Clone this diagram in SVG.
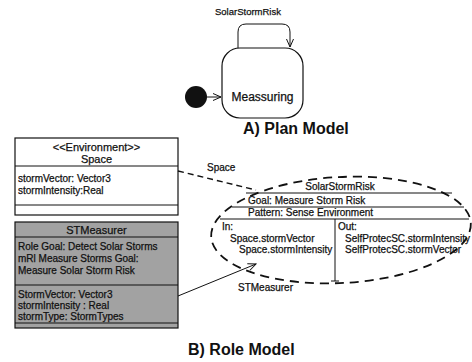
<svg xmlns="http://www.w3.org/2000/svg" width="472" height="362" viewBox="0 0 472 362">
<style>
text{font-family:"Liberation Sans",Arial,sans-serif;fill:#111;stroke:#111;stroke-width:0.25}
.s{font-size:10px}
.m{font-size:11px}
.t{font-size:16px;font-weight:bold;stroke:none}
.box{fill:#fff;stroke:#111;stroke-width:1.2}
.gbox{fill:#a2a2a2;stroke:#111;stroke-width:1.2}
.ln{stroke:#111;stroke-width:1;fill:none}
.dash{stroke:#111;stroke-width:1.8;fill:none;stroke-dasharray:9 6}
</style>
<defs>
<marker id="open" markerWidth="10" markerHeight="10" refX="9" refY="5" orient="auto" markerUnits="userSpaceOnUse">
<path d="M1,1.5 L9,5 L1,8.5" fill="none" stroke="#111" stroke-width="1"/>
</marker>
</defs>
<rect width="472" height="362" fill="#fff"/>

<g id="initial"><circle cx="196" cy="97" r="11" fill="#111"/></g>
<g id="meassuring">
<rect class="box" x="222" y="48" width="81" height="70" rx="18"/>
<text class="m" x="262.5" y="101" text-anchor="middle" style="font-size:12px">Meassuring</text>
</g>
<g id="plan-label"><text class="t" x="243" y="134">A) Plan Model</text></g>

<g id="space">
<rect class="box" x="15" y="138" width="163" height="77"/>
<line class="ln" x1="15" y1="166" x2="178" y2="166"/>
<line class="ln" x1="15" y1="205" x2="178" y2="205"/>
<text class="m" x="96.5" y="151" text-anchor="middle">&lt;&lt;Environment&gt;&gt;</text>
<text class="m" x="96.5" y="163" text-anchor="middle">Space</text>
<text class="s" x="18" y="182">stormVector: Vector3</text>
<text class="s" x="18" y="194">stormIntensity:Real</text>
</g>

<g id="stmeasurer">
<rect class="gbox" x="15" y="222" width="163" height="106"/>
<line class="ln" x1="15" y1="237" x2="178" y2="237"/>
<line class="ln" x1="15" y1="285" x2="178" y2="285"/>
<line class="ln" x1="15" y1="323" x2="178" y2="323"/>
<text class="m" x="96.5" y="234" text-anchor="middle">STMeasurer</text>
<text class="s" x="18" y="250">Role Goal: Detect Solar Storms</text>
<text class="s" x="18" y="262">mRl Measure Storms Goal:</text>
<text class="s" x="18" y="274">Measure Solar Storm Risk</text>
<text class="s" x="18" y="298">StormVector: Vector3</text>
<text class="s" x="18" y="309">stormIntensity : Real</text>
<text class="s" x="18" y="320">stormType: StormTypes</text>
</g>

<g id="solarstormrisk">
<ellipse class="dash" cx="341" cy="230" rx="130" ry="53" transform="rotate(-3 341 230)"/>
<text class="s" x="340" y="190" text-anchor="middle">SolarStormRisk</text>
<line class="ln" x1="246" y1="193" x2="452" y2="193"/>
<text class="s" x="248" y="204">Goal: Measure Storm Risk</text>
<line class="ln" x1="232" y1="207" x2="464" y2="207"/>
<text class="s" x="248" y="216">Pattern: Sense Environment</text>
<line class="ln" x1="220" y1="219" x2="469" y2="219"/>
<line class="ln" x1="335" y1="219" x2="335" y2="281"/>
<line class="ln" x1="331" y1="281" x2="339" y2="281"/>
<text class="s" x="222" y="230">In:</text>
<text class="s" x="230" y="242">Space.stormVector</text>
<text class="s" x="239" y="253">Space.stormIntensity</text>
<text class="s" x="338" y="230">Out:</text>
<text class="s" x="345" y="242">SelfProtecSC.stormIntensity</text>
<text class="s" x="345" y="253">SelfProtecSC.stormVector</text>
</g>

<g id="role-label"><text class="t" x="188" y="355">B) Role Model</text></g>

<g id="connectors">
<line class="ln" x1="207" y1="97" x2="221" y2="97" marker-end="url(#open)"/>
<path class="ln" d="M238,48 V32 Q238,24 246,24 H282 Q290,24 290,32 V47" marker-end="url(#open)"/>
<text class="s" x="248" y="15" text-anchor="middle" style="font-size:9.5px">SolarStormRisk</text>
<line class="dash" x1="178" y1="171" x2="256" y2="190" style="stroke-width:1.4;stroke-dasharray:6 4"/>
<text class="s" x="207" y="171">Space</text>
<line class="ln" x1="178" y1="296" x2="256" y2="264" marker-end="url(#open)"/>
<text class="s" x="238" y="291">STMeasurer</text>
</g>
</svg>
